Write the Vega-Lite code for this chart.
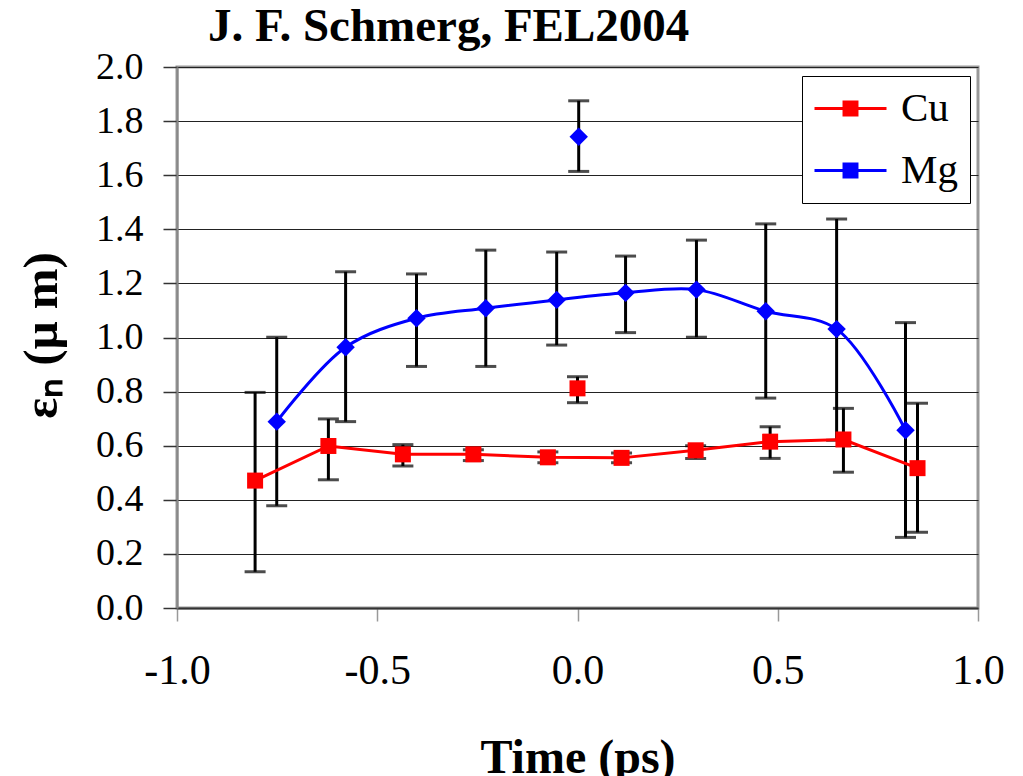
{
  "$schema": "https://vega.github.io/schema/vega-lite/v6.json",
  "width": 801,
  "height": 541,
  "autosize": "none",
  "padding": {"left": 177, "top": 67, "right": 45, "bottom": 168},
  "background": "white",
  "config": {
    "font": "Liberation Serif",
    "view": {"stroke": "#999999", "strokeWidth": 3}
  },
  "title": {
    "text": "J. F. Schmerg, FEL2004",
    "font": "Liberation Serif",
    "fontSize": 47,
    "fontWeight": "bold",
    "color": "black",
    "anchor": "start",
    "frame": "group",
    "baseline": "alphabetic",
    "dx": 31,
    "dy": 50,
    "offset": 10
  },
  "data": {
    "values": [
      {"series": "Cu", "t": -0.805, "v": 0.471, "lo": 0.134, "hi": 0.797, "on_line": true},
      {"series": "Cu", "t": -0.622, "v": 0.599, "lo": 0.474, "hi": 0.699, "on_line": true},
      {"series": "Cu", "t": -0.436, "v": 0.568, "lo": 0.525, "hi": 0.604, "on_line": true},
      {"series": "Cu", "t": -0.260, "v": 0.568, "lo": 0.545, "hi": 0.585, "on_line": true},
      {"series": "Cu", "t": -0.074, "v": 0.557, "lo": 0.537, "hi": 0.577, "on_line": true},
      {"series": "Cu", "t": 0.110, "v": 0.555, "lo": 0.537, "hi": 0.573, "on_line": true},
      {"series": "Cu", "t": 0.295, "v": 0.583, "lo": 0.553, "hi": 0.600, "on_line": true},
      {"series": "Cu", "t": 0.481, "v": 0.615, "lo": 0.553, "hi": 0.670, "on_line": true},
      {"series": "Cu", "t": 0.664, "v": 0.623, "lo": 0.502, "hi": 0.738, "on_line": true},
      {"series": "Cu", "t": 0.849, "v": 0.517, "lo": 0.280, "hi": 0.757, "on_line": true},
      {"series": "Cu", "t": 0.000, "v": 0.812, "lo": 0.759, "hi": 0.855, "on_line": false},
      {"series": "Mg", "t": -0.751, "v": 0.689, "lo": 0.378, "hi": 1.001, "on_line": true},
      {"series": "Mg", "t": -0.579, "v": 0.964, "lo": 0.689, "hi": 1.243, "on_line": true},
      {"series": "Mg", "t": -0.402, "v": 1.071, "lo": 0.893, "hi": 1.235, "on_line": true},
      {"series": "Mg", "t": -0.229, "v": 1.108, "lo": 0.893, "hi": 1.323, "on_line": true},
      {"series": "Mg", "t": -0.052, "v": 1.139, "lo": 0.972, "hi": 1.316, "on_line": true},
      {"series": "Mg", "t": 0.120, "v": 1.165, "lo": 1.018, "hi": 1.301, "on_line": true},
      {"series": "Mg", "t": 0.297, "v": 1.177, "lo": 1.001, "hi": 1.360, "on_line": true},
      {"series": "Mg", "t": 0.470, "v": 1.097, "lo": 0.776, "hi": 1.420, "on_line": true},
      {"series": "Mg", "t": 0.647, "v": 1.031, "lo": 0.620, "hi": 1.438, "on_line": true},
      {"series": "Mg", "t": 0.819, "v": 0.657, "lo": 0.261, "hi": 1.055, "on_line": true},
      {"series": "Mg", "t": 0.003, "v": 1.742, "lo": 1.614, "hi": 1.875, "on_line": false}
    ]
  },
  "encoding": {
    "x": {
      "field": "t",
      "type": "quantitative",
      "scale": {"domain": [-1, 1], "nice": false, "zero": false},
      "axis": {
        "title": "Time (ps)",
        "values": [-1, -0.5, 0, 0.5, 1],
        "labelExpr": "(datum.value < 0 ? '-' : '') + format(abs(datum.value), '.1f')",
        "grid": false,
        "domainColor": "#333333",
        "domainWidth": 2,
        "tickColor": "#999999",
        "tickWidth": 1.5,
        "tickSize": 13,
        "labelFont": "Liberation Serif",
        "labelFontSize": 42,
        "labelColor": "black",
        "labelPadding": 29,
        "labelFlush": false,
        "titleFont": "Liberation Serif",
        "titleFontSize": 48,
        "titleFontWeight": "bold",
        "titleColor": "black",
        "titleBaseline": "alphabetic",
        "titleY": 164
      }
    }
  },
  "layer": [
    {
      "mark": {"type": "errorbar", "ticks": true, "size": 21, "thickness": 3, "color": "black"},
      "encoding": {
        "y": {
          "field": "lo",
          "type": "quantitative",
          "scale": {"domain": [0, 2], "nice": false},
          "title": "εₙ (μ m)",
          "axis": {
            "title": "εₙ (μ m)",
            "values": [0, 0.2, 0.4, 0.6, 0.8, 1.0, 1.2, 1.4, 1.6, 1.8, 2.0],
            "format": ".1f",
            "grid": true,
            "gridColor": "#222222",
            "gridWidth": 1,
            "domainColor": "#888888",
            "domainWidth": 2,
            "tickColor": "#333333",
            "tickWidth": 1.5,
            "tickSize": 14,
            "labelFont": "Liberation Serif",
            "labelFontSize": 38,
            "labelColor": "black",
            "labelPadding": 20,
            "labelFlush": false,
            "titleFont": "Liberation Serif",
            "titleFontSize": 49,
            "titleFontWeight": "bold",
            "titleColor": "black",
            "titleAngle": 270,
            "titleAlign": "center",
            "titleBaseline": "middle",
            "titleX": -136,
            "titleY": 268
          }
        },
        "y2": {"field": "hi"}
      }
    },
    {
      "transform": [{"filter": "datum.series === 'Cu' && datum.on_line"}],
      "mark": {"type": "line", "strokeWidth": 3, "interpolate": "linear"},
      "encoding": {
        "y": {"field": "v", "type": "quantitative", "title": "εₙ (μ m)"},
        "color": {"field": "series", "type": "nominal", "scale": {"domain": ["Cu", "Mg"], "range": ["#ff0000", "#0000ff"]}}
      }
    },
    {
      "transform": [{"filter": "datum.series === 'Mg' && datum.on_line"}],
      "mark": {"type": "line", "strokeWidth": 3, "interpolate": "catmull-rom"},
      "encoding": {
        "y": {"field": "v", "type": "quantitative", "title": "εₙ (μ m)"},
        "color": {"field": "series", "type": "nominal", "scale": {"domain": ["Cu", "Mg"], "range": ["#ff0000", "#0000ff"]}}
      }
    },
    {
      "transform": [{"filter": "datum.series === 'Cu'"}],
      "mark": {"type": "point", "filled": true, "opacity": 1, "shape": "square", "size": 256},
      "encoding": {
        "y": {"field": "v", "type": "quantitative", "title": "εₙ (μ m)"},
        "color": {"field": "series", "type": "nominal", "scale": {"domain": ["Cu", "Mg"], "range": ["#ff0000", "#0000ff"]}}
      }
    },
    {
      "transform": [{"filter": "datum.series === 'Mg'"}],
      "mark": {"type": "point", "filled": true, "opacity": 1, "shape": "diamond", "size": 340},
      "encoding": {
        "y": {"field": "v", "type": "quantitative", "title": "εₙ (μ m)"},
        "color": {
          "field": "series",
          "type": "nominal",
          "scale": {"domain": ["Cu", "Mg"], "range": ["#ff0000", "#0000ff"]},
          "legend": {
            "title": null,
            "orient": "none",
            "legendX": 625,
            "legendY": 9,
            "strokeColor": "black",
            "fillColor": "white",
            "padding": 12,
            "symbolType": "M-1,0H3M0.64,-0.36H1.36V0.36H0.64Z",
            "symbolOffset": -2,
            "labelFont": "Liberation Serif",
            "labelFontSize": 41,
            "labelColor": "black",
            "labelOffset": 48,
            "symbolSize": 1296,
            "symbolStrokeWidth": 3,
            "rowPadding": 20
          }
        }
      }
    }
  ]
}
